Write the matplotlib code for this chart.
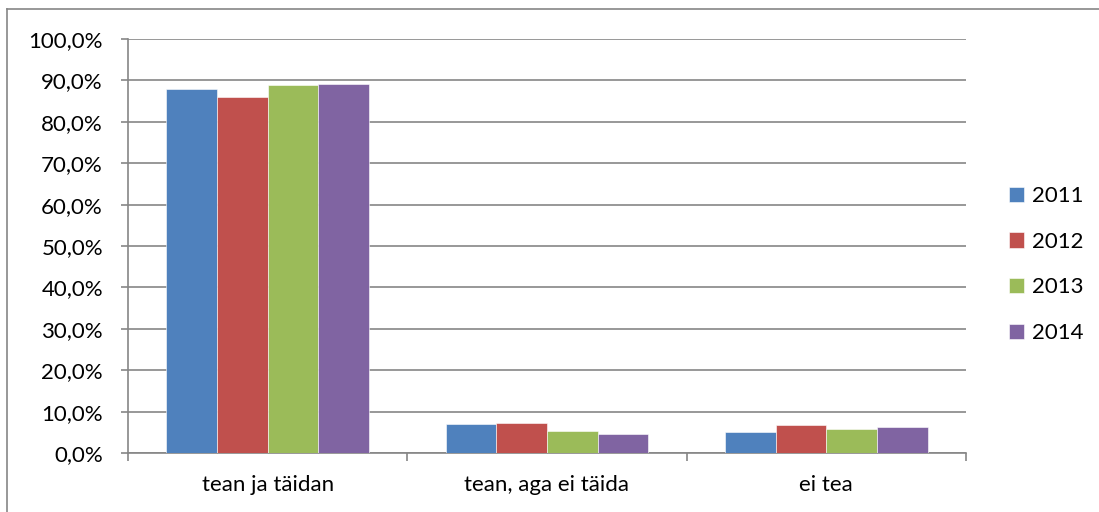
import numpy as np
import matplotlib.pyplot as plt
from matplotlib.lines import Line2D
from matplotlib.ticker import FuncFormatter

plt.rcParams["font.family"] = ["Lato", "DejaVu Sans"]

categories = ["tean ja täidan", "tean, aga ei täida", "ei tea"]
years = ["2011", "2012", "2013", "2014"]
values_2011 = [88.0, 6.9, 5.1]
values_2012 = [86.0, 7.3, 6.7]
values_2013 = [88.9, 5.2, 5.9]
values_2014 = [89.2, 4.6, 6.3]
colors = ["#4F81BD", "#C0504D", "#9BBB59", "#8064A2"]

series = [values_2011, values_2012, values_2013, values_2014]
W, H = 1099, 512
FS = 16

fig = plt.figure(figsize=(W / 100, H / 100), dpi=100)
ax = fig.add_axes([128 / W, 1 - 453 / H, (966 - 128) / W, (453 - 39) / H])

x = np.arange(len(categories))
bar_w = 0.1815
for i, (vals, col, yr) in enumerate(zip(series, colors, years)):
    ax.bar(x + (i - 1.5) * bar_w, vals, width=bar_w, color=col, label=yr,
           edgecolor="white", linewidth=0.4, zorder=3)

grid_col = "#868686"
lw = 1.2
ax.set_xlim(-0.5, len(categories) - 0.5)
ax.set_ylim(0, 100)
ax.set_yticks(np.arange(0, 101, 10))
ax.yaxis.set_major_formatter(FuncFormatter(lambda v, p: f"{v:.1f}%".replace(".", ",")))
ax.grid(axis="y", color=grid_col, linewidth=lw, zorder=0)
ax.set_xticks(x)
ax.set_xticklabels(categories)
ax.set_xticks(np.arange(-0.5, len(categories), 1), minor=True)
ax.tick_params(axis="x", which="major", length=0, pad=16, labelsize=FS)
ax.tick_params(axis="x", which="minor", length=6, color=grid_col, width=lw)
ax.tick_params(axis="y", length=5, color=grid_col, width=lw, pad=13, labelsize=FS)
for side in ["top", "right"]:
    ax.spines[side].set_visible(False)
ax.spines["left"].set_color(grid_col)
ax.spines["left"].set_linewidth(lw)
ax.spines["bottom"].set_color(grid_col)
ax.spines["bottom"].set_linewidth(lw)

ax.legend(loc="center left", bbox_to_anchor=(1.051, 0.455), frameon=False,
          fontsize=FS, handlelength=0.68, handleheight=0.68, handletextpad=0.35,
          labelspacing=1.15, borderpad=0, borderaxespad=0)

# outer chart border (cut off at right and bottom in the original)
fig.add_artist(Line2D([7 / W, 7 / W], [0, 1 - 9 / H], color=grid_col, linewidth=lw))
fig.add_artist(Line2D([7 / W, 1], [1 - 9 / H, 1 - 9 / H], color=grid_col, linewidth=lw))

fig.savefig("out.png", dpi=100)
